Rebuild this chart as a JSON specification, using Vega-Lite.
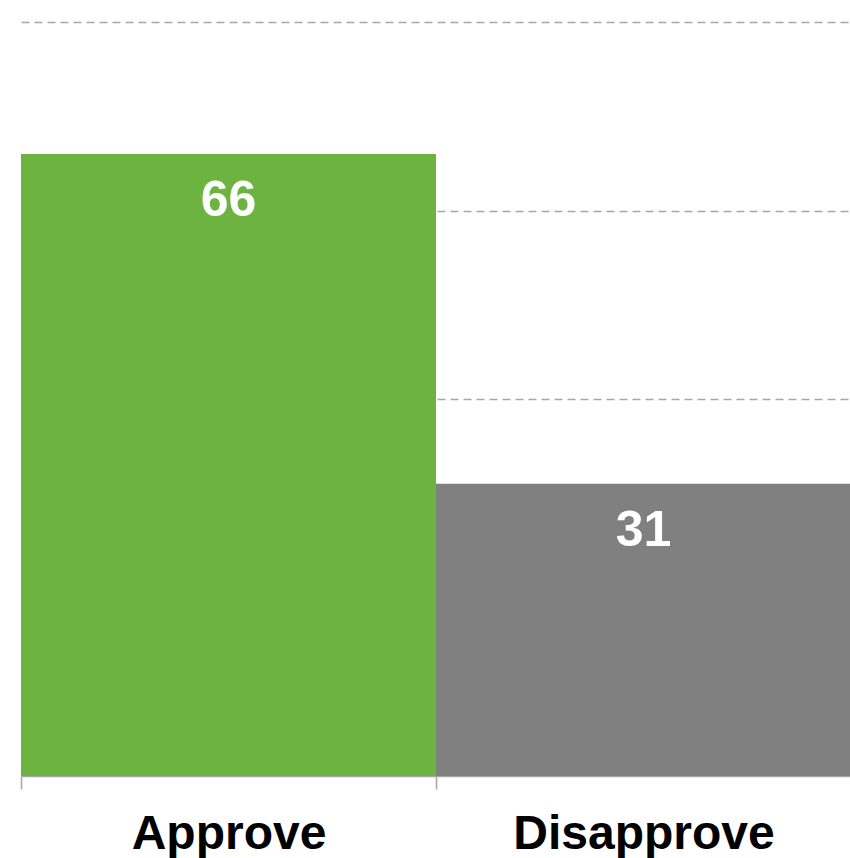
{
  "$schema": "https://vega.github.io/schema/vega-lite/v6.json",
  "width": 830,
  "height": 754,
  "padding": {"left": 20, "top": 22, "right": 0, "bottom": 0},
  "background": "white",
  "config": {"view": {"stroke": null}, "font": "Liberation Sans"},
  "data": {"values": [
    {"answer": "Approve", "value": 66},
    {"answer": "Disapprove", "value": 31}
  ]},
  "encoding": {
    "x": {"field": "answer", "type": "nominal", "sort": null,
      "scale": {"paddingInner": 0, "paddingOuter": 0},
      "axis": {"title": null, "labelAngle": 0, "labelLimit": 0, "labelFont": "Liberation Sans", "labelFontSize": 48, "labelFontWeight": "bold", "labelColor": "#000000",
        "labelBaseline": "alphabetic", "labelPadding": 59, "tickSize": 13, "tickBand": "extent", "tickColor": "#a6a6a6", "tickWidth": 1.5,
        "domainColor": "#a6a6a6", "domainWidth": 1.5, "grid": false}},
    "y": {"field": "value", "type": "quantitative",
      "scale": {"domain": [0, 80], "nice": false},
      "axis": {"title": null, "labels": false, "ticks": false, "domain": false, "values": [20, 40, 60, 80],
        "grid": true, "gridColor": "#a6a6a6", "gridDash": [8, 5], "gridWidth": 1.5}}
  },
  "layer": [
    {"mark": {"type": "bar"},
     "encoding": {"color": {"field": "answer", "type": "nominal", "legend": null,
       "scale": {"domain": ["Approve", "Disapprove"], "range": ["#6db33f", "#808080"]}}}},
    {"mark": {"type": "text", "baseline": "alphabetic", "dy": 62, "fontSize": 50, "fontWeight": "bold", "color": "white", "font": "Liberation Sans"},
     "encoding": {"text": {"field": "value", "type": "quantitative"}}}
  ]
}
